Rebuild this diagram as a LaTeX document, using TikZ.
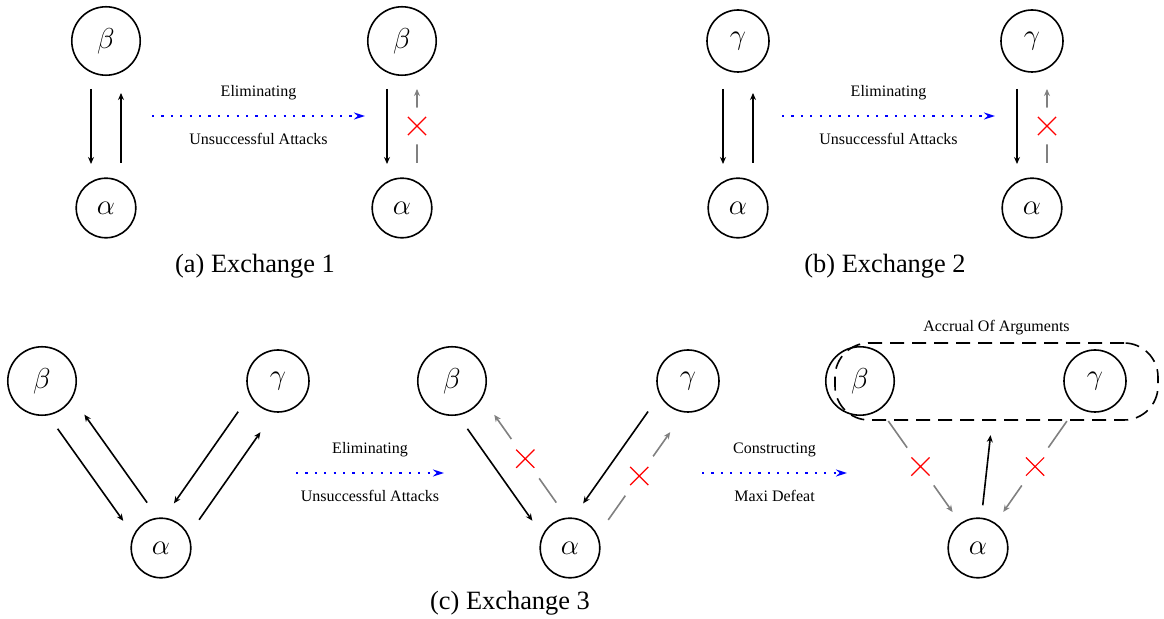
\documentclass[tikz,border=0pt]{standalone}
\usepackage[no-math]{fontspec}
\setmainfont{Liberation Serif}
\usetikzlibrary{calc,arrows.meta,shapes.misc}

\tikzset{
  arg/.style={circle, draw, thick, inner sep=6.7pt, font=\fontsize{14.4}{16}\selectfont},
  atk/.style={thick, -{Stealth[length=3.5pt,width=3pt]}},
  failed/.style={atk, gray},
  gapdisk/.style={circle, fill=white, inner sep=0pt, minimum size=#1},
  xmark/.style={cross out, draw=red, semithick, inner sep=0pt, minimum size=8.5pt},
  move/.style={blue, line width=1.1pt, dash pattern=on 1.1pt off 3.6pt, -{Stealth[length=5.5pt,width=3.5pt]}},
  tag/.style={font=\fontsize{8}{9.6}\selectfont},
  caption/.style={font=\fontsize{13.2}{15}\selectfont},
}

\begin{document}
\begin{tikzpicture}[x=0.5pt, y=-0.5pt]
  \useasboundingbox (0,0) rectangle (1164,619);

  % (a) exchange 1
  \node[arg] (b1) at (106,41) {$\beta$};
  \node[arg] (a1) at (106,208) {$\alpha$};
  \node[arg] (b2) at (402,41) {$\beta$};
  \node[arg] (a2) at (402,208) {$\alpha$};
  \draw[atk] ($(b1)!24pt!(a1)!7.5pt!-90:(a1)$) -- ($(a1)!22pt!(b1)!7.5pt!90:(b1)$);
  \draw[atk] ($(a1)!22.5pt!(b1)!7.5pt!-90:(b1)$) -- ($(b1)!26pt!(a1)!7.5pt!90:(a1)$);
  \draw[atk] ($(b2)!24pt!(a2)!7.5pt!-90:(a2)$) -- ($(a2)!22pt!(b2)!7.5pt!90:(b2)$);
  \draw[failed] ($(a2)!22.5pt!(b2)!7.5pt!-90:(b2)$) -- node[gapdisk=18.5pt]{} node[xmark]{} ($(b2)!24pt!(a2)!7.5pt!90:(a2)$);
  \coordinate (m1s) at (152,116);
  \coordinate (m1t) at (365,116);
  \draw[move] (m1s) -- node[tag, text=black, yshift=11.5pt]{Eliminating} node[tag, text=black, yshift=-11.5pt]{Unsuccessful Attacks} (m1t);
  \node[caption] (capa) at (255,266) {(a) Exchange 1};

  % (b) exchange 2
  \node[arg] (g3) at (738,41) {$\gamma$};
  \node[arg] (a3) at (738,208) {$\alpha$};
  \node[arg] (g4) at (1032,41) {$\gamma$};
  \node[arg] (a4) at (1032,208) {$\alpha$};
  \draw[atk] ($(g3)!24pt!(a3)!7.5pt!-90:(a3)$) -- ($(a3)!22pt!(g3)!7.5pt!90:(g3)$);
  \draw[atk] ($(a3)!22.5pt!(g3)!7.5pt!-90:(g3)$) -- ($(g3)!26pt!(a3)!7.5pt!90:(a3)$);
  \draw[atk] ($(g4)!24pt!(a4)!7.5pt!-90:(a4)$) -- ($(a4)!22pt!(g4)!7.5pt!90:(g4)$);
  \draw[failed] ($(a4)!22.5pt!(g4)!7.5pt!-90:(g4)$) -- node[gapdisk=18.5pt]{} node[xmark]{} ($(g4)!24pt!(a4)!7.5pt!90:(a4)$);
  \coordinate (m2s) at (782,116);
  \coordinate (m2t) at (995,116);
  \draw[move] (m2s) -- node[tag, text=black, yshift=11.5pt]{Eliminating} node[tag, text=black, yshift=-11.5pt]{Unsuccessful Attacks} (m2t);
  \node[caption] (capb) at (885,266) {(b) Exchange 2};

  % (c) exchange 3, before
  \node[arg] (b5) at (42,381) {$\beta$};
  \node[arg] (g5) at (278,381) {$\gamma$};
  \node[arg] (a5) at (161,548) {$\alpha$};
  \draw[atk] ($(b5)!24pt!(a5)!7.5pt!-90:(a5)$) -- ($(a5)!22pt!(b5)!7.5pt!90:(b5)$);
  \draw[atk] ($(a5)!22.5pt!(b5)!7.5pt!-90:(b5)$) -- ($(b5)!26pt!(a5)!7.5pt!90:(a5)$);
  \draw[atk] ($(g5)!24pt!(a5)!7.5pt!-90:(a5)$) -- ($(a5)!22pt!(g5)!7.5pt!90:(g5)$);
  \draw[atk] ($(a5)!22.5pt!(g5)!7.5pt!-90:(g5)$) -- ($(g5)!26pt!(a5)!7.5pt!90:(a5)$);
  \coordinate (m5s) at (296,473);
  \coordinate (m5t) at (444,473);
  \draw[move] (m5s) -- node[tag, text=black, yshift=11.5pt]{Eliminating} node[tag, text=black, yshift=-11.5pt]{Unsuccessful Attacks} (m5t);

  % (c) after elimination
  \node[arg] (b6) at (452,381) {$\beta$};
  \node[arg] (g6) at (688,381) {$\gamma$};
  \node[arg] (a6) at (570,548) {$\alpha$};
  \draw[atk] ($(b6)!24pt!(a6)!7.5pt!-90:(a6)$) -- ($(a6)!22pt!(b6)!7.5pt!90:(b6)$);
  \draw[failed] ($(a6)!22.5pt!(b6)!7.5pt!-90:(b6)$) -- node[gapdisk=24pt]{} node[xmark]{} ($(b6)!26pt!(a6)!7.5pt!90:(a6)$);
  \draw[atk] ($(g6)!24pt!(a6)!7.5pt!-90:(a6)$) -- ($(a6)!22pt!(g6)!7.5pt!90:(g6)$);
  \draw[failed] ($(a6)!22.5pt!(g6)!7.5pt!-90:(g6)$) -- node[gapdisk=24pt]{} node[xmark]{} ($(g6)!26pt!(a6)!7.5pt!90:(a6)$);
  \coordinate (m6s) at (702,473);
  \coordinate (m6t) at (847,473);
  \draw[move] (m6s) -- node[tag, text=black, yshift=11.5pt]{Constructing} node[tag, text=black, yshift=-11.5pt]{Maxi Defeat} (m6t);

  % (c) accrual
  \node[arg] (b7) at (860,381) {$\beta$};
  \node[arg] (g7) at (1095,381) {$\gamma$};
  \node[arg] (a7) at (978,548) {$\alpha$};
  \node[draw, thick, rounded corners=17pt, dash pattern=on 7pt off 4pt, inner sep=0pt,
        minimum width=161.5pt, minimum height=38.5pt,
        label={[tag, label distance=0pt]above:Accrual Of Arguments}] (acc) at (996.5,381.5) {};
  \draw[failed] ($(b7)!24.5pt!(a7)$) -- node[gapdisk=23pt]{} node[xmark]{} ($(a7)!22pt!(b7)$);
  \draw[failed] ($(g7)!24.5pt!(a7)$) -- node[gapdisk=23pt]{} node[xmark]{} ($(a7)!22pt!(g7)$);
  \draw[atk] ($(a7)!21.5pt!(acc)$) -- ($(acc)!27pt!(a7)$);
  \node[caption] (capc) at (510,603) {(c) Exchange 3};
\end{tikzpicture}
\end{document}
